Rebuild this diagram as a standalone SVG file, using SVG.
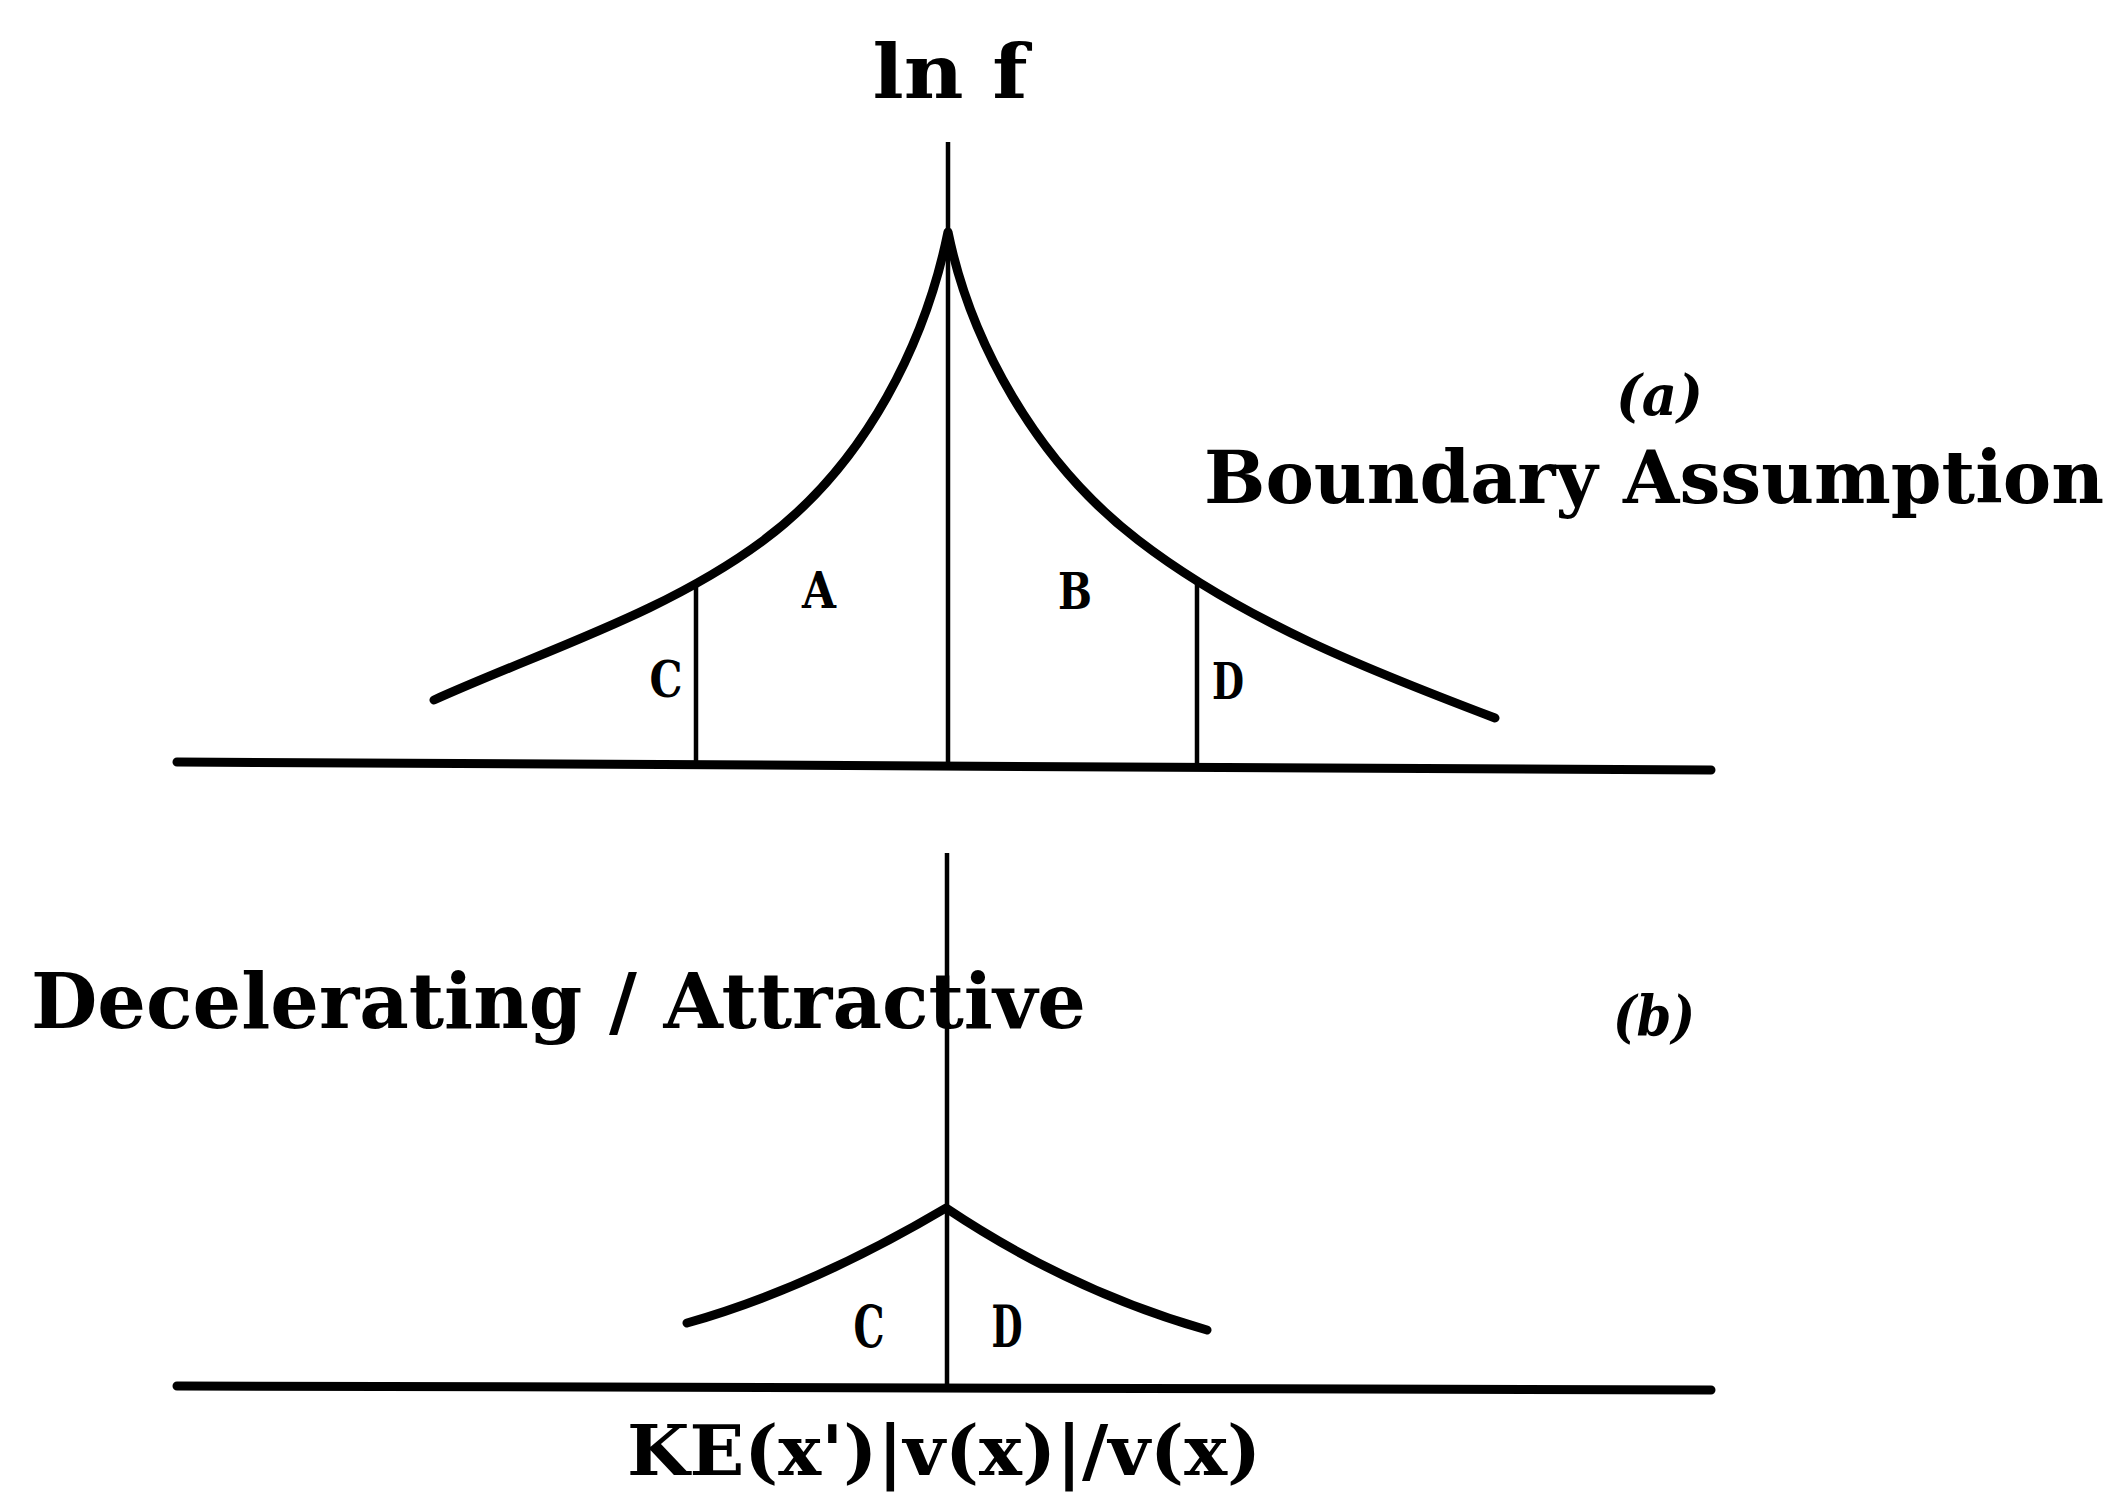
<svg xmlns="http://www.w3.org/2000/svg" width="2124" height="1494" viewBox="0 0 2124 1494">
<style>
.ax{stroke:#000;stroke-width:9;fill:none;stroke-linecap:round}
.thin{stroke:#000;stroke-width:4.5;fill:none}
.cv{stroke:#000;stroke-width:9;fill:none;stroke-linecap:round;stroke-linejoin:round}
.t{font-family:"DejaVu Serif","Liberation Serif",serif;font-weight:bold;fill:#000}
.it{font-style:italic}
</style>
<rect width="2124" height="1494" fill="#fff"/>
<g id="panel-a">
  <text class="t" x="950" y="98" font-size="74" text-anchor="middle" textLength="155" lengthAdjust="spacingAndGlyphs">ln f</text>
  <line class="thin" x1="948" y1="142" x2="948" y2="766"/>
  <path class="cv" d="M434 700 C545 650 666 613 764 540 C868 462 926 340 948 232 C970 340 1035 461 1138 540 C1243 621 1371 671 1495 718"/>
  <line class="thin" x1="696" y1="584" x2="696" y2="766"/>
  <line class="thin" x1="1197" y1="582" x2="1197" y2="769"/>
  <line class="ax" x1="177" y1="762" x2="1711" y2="770"/>
  <text class="t" x="819" y="608" font-size="50" text-anchor="middle" textLength="34" lengthAdjust="spacingAndGlyphs">A</text>
  <text class="t" x="1075" y="609" font-size="50" text-anchor="middle" textLength="34" lengthAdjust="spacingAndGlyphs">B</text>
  <text class="t" x="666" y="697" font-size="50" text-anchor="middle" textLength="33" lengthAdjust="spacingAndGlyphs">C</text>
  <text class="t" x="1228" y="699" font-size="50" text-anchor="middle" textLength="32" lengthAdjust="spacingAndGlyphs">D</text>
  <text class="t it" x="1616" y="415" font-size="56" textLength="87" lengthAdjust="spacingAndGlyphs">(a)</text>
  <text class="t" x="1204" y="503" font-size="73" textLength="900" lengthAdjust="spacingAndGlyphs">Boundary Assumption</text>
</g>
<g id="panel-b">
  <text class="t" x="31" y="1028" font-size="76" textLength="1055" lengthAdjust="spacingAndGlyphs">Decelerating / Attractive</text>
  <text class="t it" x="1613" y="1036" font-size="56" textLength="82" lengthAdjust="spacingAndGlyphs">(b)</text>
  <line class="thin" x1="947" y1="853" x2="947" y2="1388"/>
  <path class="cv" d="M687 1323 Q 811 1288, 946 1208 Q 1070 1291, 1207 1330"/>
  <line class="ax" x1="177" y1="1386" x2="1711" y2="1390"/>
  <text class="t" x="869" y="1347" font-size="58" text-anchor="middle" textLength="31" lengthAdjust="spacingAndGlyphs">C</text>
  <text class="t" x="1007" y="1347" font-size="58" text-anchor="middle" textLength="31" lengthAdjust="spacingAndGlyphs">D</text>
  <text class="t" x="627" y="1475" font-size="70" textLength="634" lengthAdjust="spacingAndGlyphs">KE(x')|v(x)|/v(x)</text>
</g>
</svg>
